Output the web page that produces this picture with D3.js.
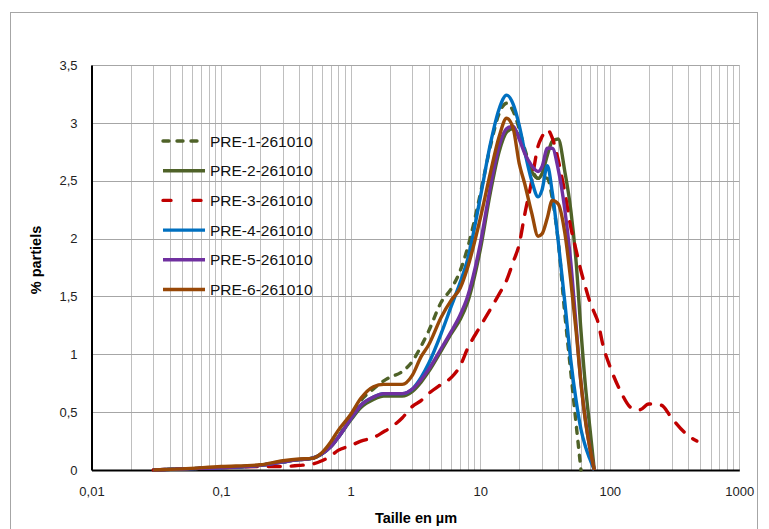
<!DOCTYPE html>
<html><head><meta charset="utf-8">
<script src="https://cdn.jsdelivr.net/npm/d3@7"></script>
<style>body{margin:0;background:#fff}svg{display:block}</style>
</head><body>
<script>
const sizes = [0.03,0.05,0.1,0.2,0.3,0.4,0.5,0.6,0.7,0.8,1,1.2,1.5,1.8,2,2.5,3,3.5,4,5,6,7,8,10,12,14,16,18,20,22,25,28,30,33,36,40,45,50,55,60,65,70,76,80,90,100,120,150,170,200,250,300,400,470];
const seriesNames = ["PRE-1-261010","PRE-2-261010","PRE-3-261010","PRE-4-261010","PRE-5-261010","PRE-6-261010"];
const pre1 = [0,0.01,0.02,0.04,0.07,0.09,0.1,0.14,0.2,0.28,0.47,0.6,0.7,0.77,0.8,0.85,0.94,1.07,1.2,1.45,1.57,1.72,1.92,2.38,2.8,3.08,3.17,3.1,2.95,2.78,2.6,2.52,2.53,2.52,2.35,1.98,1.35,0.85,0.4,0,null,null,null,null,null,null,null,null,null,null,null,null,null,null];
const pre2 = [0,0.01,0.02,0.04,0.07,0.09,0.1,0.14,0.2,0.28,0.43,0.54,0.61,0.64,0.64,0.64,0.68,0.76,0.85,1.03,1.18,1.3,1.45,1.9,2.4,2.75,2.92,2.95,2.88,2.75,2.58,2.52,2.56,2.72,2.84,2.86,2.58,2.25,1.8,1.2,0.72,0.38,0,null,null,null,null,null,null,null,null,null,null,null];
const pre3 = [0,0.01,0.02,0.03,0.03,0.04,0.05,0.08,0.12,0.17,0.21,0.25,0.28,0.33,0.36,0.45,0.55,0.6,0.66,0.74,0.8,0.9,1.05,1.24,1.39,1.52,1.64,1.8,1.95,2.2,2.5,2.8,2.88,2.94,2.87,2.68,2.4,2.1,1.9,1.72,1.58,1.46,1.36,1.3,1.05,0.9,0.69,0.53,0.52,0.57,0.56,0.45,0.3,0.25];
const pre4 = [0,0.01,0.02,0.04,0.07,0.09,0.1,0.14,0.2,0.28,0.44,0.56,0.63,0.66,0.66,0.66,0.7,0.8,0.92,1.18,1.42,1.62,1.82,2.35,2.82,3.12,3.24,3.16,2.98,2.76,2.5,2.36,2.42,2.63,2.4,1.98,1.45,0.95,0.6,0.35,0.2,0.1,0,null,null,null,null,null,null,null,null,null,null,null];
const pre5 = [0,0.01,0.02,0.04,0.07,0.09,0.1,0.14,0.2,0.28,0.44,0.56,0.63,0.66,0.66,0.66,0.7,0.78,0.87,1.05,1.2,1.34,1.5,1.95,2.45,2.8,2.95,2.97,2.86,2.74,2.63,2.58,2.62,2.78,2.78,2.6,2.25,1.8,1.25,0.75,0.43,0.2,0,null,null,null,null,null,null,null,null,null,null,null];
const pre6 = [0,0.01,0.03,0.045,0.08,0.095,0.1,0.15,0.24,0.34,0.48,0.62,0.72,0.74,0.74,0.74,0.82,0.98,1.08,1.32,1.47,1.57,1.75,2.17,2.57,2.88,3.04,2.95,2.65,2.48,2.22,2.02,2.04,2.18,2.33,2.3,2.05,1.64,1.2,0.75,0.42,0.2,0,null,null,null,null,null,null,null,null,null,null,null];
const seriesValues = [pre1,pre2,pre3,pre4,pre5,pre6];
const colors = ["#4f6228","#4f6228","#c00000","#0070c0","#7030a0","#984807"];
const dashes = ["6,8",null,"12,11",null,null,null];
const xTickVals = [0.01,0.1,1,10,100,1000];
const xTickLabels = ["0,01","0,1","1","10","100","1000"];
const yTickVals = [0,0.5,1,1.5,2,2.5,3,3.5];
const yTickLabels = ["0","0,5","1","1,5","2","2,5","3","3,5"];
const xTitle = "Taille en µm";
const yTitle = "% partiels";

const W = 769, H = 529;
const L = 91.5, R = 739.3, T = 65, B = 470;
const font = "'Liberation Sans', Arial, sans-serif";

const svg = d3.select("body").append("svg").attr("width", W).attr("height", H);
svg.append("rect").attr("x",10.5).attr("y",12.5).attr("width",747).attr("height",530)
  .attr("fill","#fff").attr("stroke","#a6a6a6").attr("stroke-width",1);

const x = d3.scaleLog().domain([0.01,1000]).range([L,R]);
const y = d3.scaleLinear().domain([0,3.5]).range([B,T]);

// vertical grid (major + minor)
const xGrid = [];
for (let e=-2; e<3; e++) for (let m=1; m<10; m++) xGrid.push(m*Math.pow(10,e));
xGrid.push(1000);
svg.append("g").selectAll("line").data(xGrid.filter(v=>v>0.01)).join("line")
  .attr("x1",d=>Math.round(x(d))+0.5).attr("x2",d=>Math.round(x(d))+0.5)
  .attr("y1",T).attr("y2",B).attr("stroke","#bfbfbf").attr("stroke-width",1);
// horizontal grid
svg.append("g").selectAll("line").data(yTickVals.filter(v=>v>0)).join("line")
  .attr("x1",L).attr("x2",R)
  .attr("y1",d=>Math.round(y(d))+0.5).attr("y2",d=>Math.round(y(d))+0.5)
  .attr("stroke","#a6a6a6").attr("stroke-width",1);

// axes
const xAxis = d3.axisBottom(x).tickValues(xTickVals).tickSize(0)
  .tickFormat((d,i)=>xTickLabels[i]);
const gx = svg.append("g").attr("transform",`translate(0,${B})`).call(xAxis);
gx.select(".domain").attr("stroke","#000").attr("stroke-width",2);
gx.selectAll("text").attr("font-family",font).attr("font-size",13).attr("fill","#222").attr("dy","1.8em");

const yAxis = d3.axisLeft(y).tickValues(yTickVals).tickSize(0)
  .tickFormat((d,i)=>yTickLabels[i]);
const gy = svg.append("g").attr("transform",`translate(${L},0)`).call(yAxis);
gy.select(".domain").attr("stroke","#000").attr("stroke-width",2);
gy.selectAll("text").attr("font-family",font).attr("font-size",13).attr("fill","#222").attr("x",-14);

// titles
svg.append("text").attr("x",416).attr("y",523).attr("text-anchor","middle")
  .attr("font-family",font).attr("font-size",14.5).attr("font-weight","bold").text(xTitle);
svg.append("text").attr("transform","translate(41,260) rotate(-90)").attr("text-anchor","middle")
  .attr("font-family",font).attr("font-size",14.5).attr("font-weight","bold").text(yTitle);

// lines
const line = d3.line().defined(d=>d[1]!=null).x(d=>x(d[0])).y(d=>y(d[1])).curve(d3.curveMonotoneX);
seriesValues.forEach((vals,i)=>{
  const pts = sizes.map((s,j)=>[s,vals[j]]);
  const p = svg.append("path").datum(pts).attr("d",line).attr("fill","none")
    .attr("stroke",colors[i]).attr("stroke-width",3.4).attr("stroke-linejoin","round")
    .attr("stroke-linecap", dashes[i] ? "round" : "butt");
  if (dashes[i]) p.attr("stroke-dasharray",dashes[i]);
});

// legend
const lg = svg.append("g");
seriesNames.forEach((n,i)=>{
  const yy = 141 + i*29.7;
  const l = lg.append("line").attr("x1",163).attr("x2",205).attr("y1",yy).attr("y2",yy)
    .attr("stroke",colors[i]).attr("stroke-width",3.4).attr("stroke-linecap", dashes[i]?"round":"butt");
  if (dashes[i]) l.attr("stroke-dasharray", i===0 ? "6,8" : "8,22");
  lg.append("text").attr("x",210).attr("y",yy+5.5).attr("font-family",font)
    .attr("font-size",15.5).attr("fill","#111").text(n);
});
</script>
</body></html>
